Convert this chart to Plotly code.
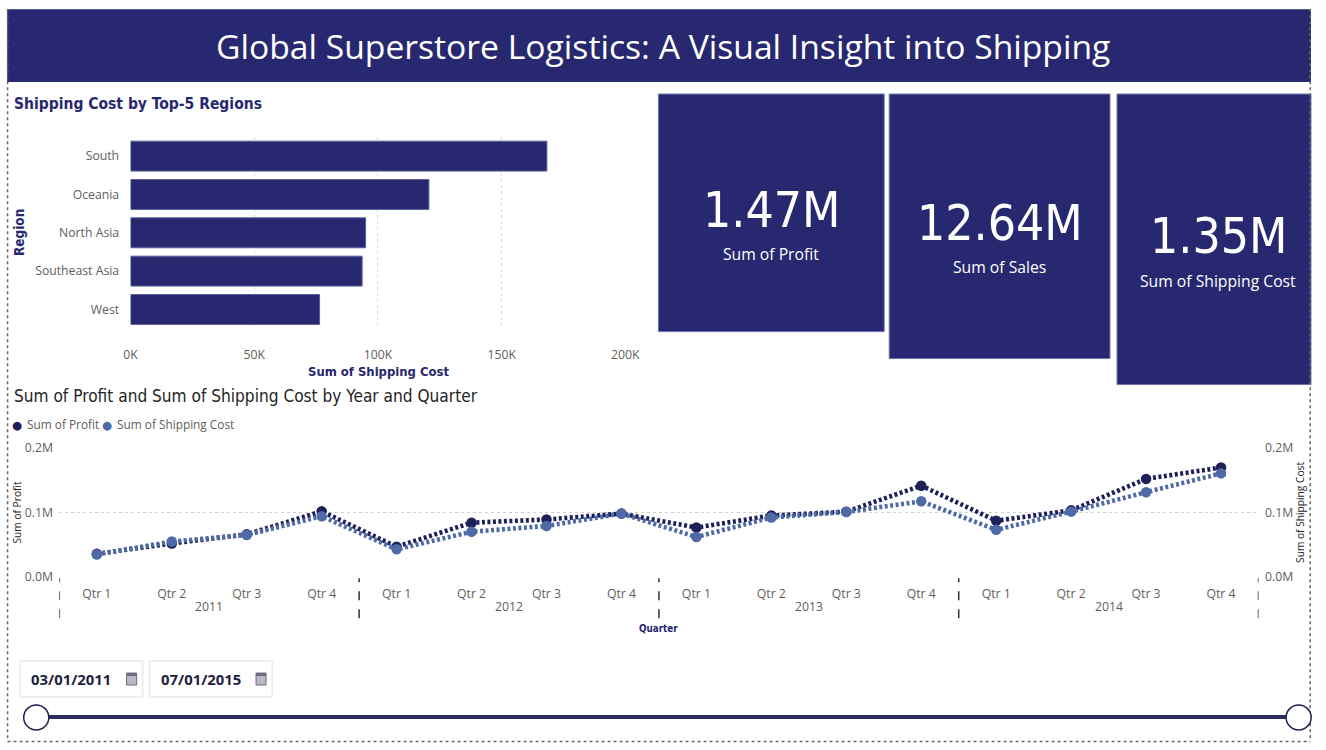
import plotly.graph_objects as go

# The page is photographed with the body's 8px margin and slightly scaled down,
# so positions are given in target-picture pixels and converted here.
W, H = 1326, 750
OFF = 8
KX, KY = 0.98, 0.979

# ---------------- data ----------------
regions = ["South", "Oceania", "North Asia", "Southeast Asia", "West"]
region_shipping = [168300, 120600, 95000, 93600, 76400]
bar_ticks = [0, 50000, 100000, 150000, 200000]
bar_tick_text = ["0K", "50K", "100K", "150K", "200K"]

years = ["2011", "2012", "2013", "2014"]
quarters = ["Qtr 1", "Qtr 2", "Qtr 3", "Qtr 4"]
profit = [36000, 52000, 66000, 101500, 47000, 84000, 89000, 98000,
          76500, 95000, 101000, 141000, 87000, 103000, 151500, 169000]
shipping = [35000, 55000, 65000, 94000, 43000, 70000, 79000, 98000,
            62000, 92000, 100500, 117000, 73000, 101000, 131000, 160000]
line_ticks = [0, 100000, 200000]
line_tick_text = ["0.0M", "0.1M", "0.2M"]

kpi_values = ["1.47M", "12.64M", "1.35M"]
kpi_labels = ["Sum of Profit", "Sum of Sales", "Sum of Shipping Cost"]

date_from, date_to = "03/01/2011", "07/01/2015"

# ---------------- styles ----------------
NAVY = "#27286F"
DARK = "#1E2059"
LIGHT = "#4E6BA8"
GRAY = "#605E5C"
DIN = "Liberation Sans Narrow, DejaVu Sans Condensed, Roboto, sans-serif"
SEG = "Open Sans, Noto Sans, sans-serif"


def X(px):
    return (px / KX - OFF) / W


def Y(py):
    return 1 - (py / KY - OFF) / H


def F(size):
    return size / KX


fig = go.Figure()

# bar chart
fig.add_trace(go.Bar(
    y=regions, x=region_shipping, orientation="h",
    marker=dict(color=NAVY, line=dict(color="#5b5e9a", width=1)),
    xaxis="x", yaxis="y", showlegend=False, hoverinfo="x+y",
))

# line chart
qx = list(range(len(profit)))
fig.add_trace(go.Scatter(
    x=qx, y=profit, mode="lines+markers", name="Sum of Profit",
    line=dict(color=DARK, width=4.6, dash="3px,2.5px"),
    marker=dict(color=DARK, size=10.5),
    xaxis="x2", yaxis="y2", showlegend=False,
))
fig.add_trace(go.Scatter(
    x=qx, y=shipping, mode="lines+markers", name="Sum of Shipping Cost",
    line=dict(color=LIGHT, width=4.6, dash="3px,2.5px"),
    marker=dict(color=LIGHT, size=10.5),
    xaxis="x2", yaxis="y3", showlegend=False,
))

shapes = []
ann = []


def text(t, px, py, size, color, family=SEG, xanchor="center", angle=0, xref="paper", xval=None):
    ann.append(dict(text=t, x=X(px) if xval is None else xval, y=Y(py), xref=xref, yref="paper",
                    showarrow=False, textangle=angle, font=dict(family=family, size=F(size), color=color),
                    xanchor=xanchor, yanchor="middle"))


def rect(x0, y0, x1, y1, fill, line_color=None, lw=0):
    shapes.append(dict(type="rect", xref="paper", yref="paper",
                       x0=max(X(x0), 0), x1=min(X(x1), 1), y0=Y(y1), y1=min(Y(y0), 1),
                       fillcolor=fill, line=dict(color=line_color or fill, width=lw)))


# title banner
rect(8, 8, 1316, 81, NAVY)
text("Global Superstore Logistics: A Visual Insight into Shipping", 662, 45, 33, "white")

# bar chart texts
text("<b>Shipping Cost by Top-5 Regions</b>", 13, 103, 15.2, NAVY, family=DIN, xanchor="left")
text("<b>Region</b>", 21, 232, 13.2, NAVY, family=DIN, angle=-90)
text("<b>Sum of Shipping Cost</b>", 378, 371, 12.7, NAVY, family=DIN)

# KPI cards
cards = [(657, 93, 882, 331), (887, 93, 1107, 358), (1114, 93, 1316, 384)]
val_y = [209, 222, 235]
lab_y = [253, 266, 280]
for (x0, y0, x1, y1), v, l, vy, ly in zip(cards, kpi_values, kpi_labels, val_y, lab_y):
    rect(x0, y0, x1, y1, NAVY, "#7074a8", 1)
    cx = (x0 + x1) / 2
    text(v, cx, vy, 48.5, "white", family=DIN)
    text(l, cx, ly, 15.4, "white")

# outer dotted frame (drawn after the cards so its right edge stays visible)
frame_l, frame_r, frame_b = max(X(7), 0.6 / W), min(X(1317.5), 1 - 0.8 / W), Y(741.5)
for (x0, y0, x1, y1) in [(frame_l, Y(8), frame_l, frame_b), (frame_r, Y(8), frame_r, frame_b),
                         (frame_l, frame_b, frame_r, frame_b)]:
    shapes.append(dict(type="line", xref="paper", yref="paper", x0=x0, x1=x1, y0=y0, y1=y1,
                       line=dict(color="#666", width=1.5, dash="dot")))

# line chart texts + legend
text("Sum of Profit and Sum of Shipping Cost by Year and Quarter", 13, 395, 16.8, "#252423",
     family=DIN, xanchor="left")
text("●", 18, 424, 20, DARK)
text("Sum of Profit", 26, 424, 11.6, GRAY, xanchor="left")
text("●", 107, 424, 20, LIGHT)
text("Sum of Shipping Cost", 115, 424, 11.6, GRAY, xanchor="left")
text("Sum of Profit", 18, 512, 10, "#252423", angle=-90)
text("Sum of Shipping Cost", 1297, 512, 10, "#252423", angle=-90)
nq = len(quarters)
for i, yr in enumerate(years):
    text(yr, 0, 606, 12, GRAY, xref="x2", xval=i * nq + (nq - 1) / 2)
for i in range(len(years) + 1):
    shapes.append(dict(type="line", xref="x2", yref="paper", x0=i * nq - 0.5, x1=i * nq - 0.5,
                       y0=Y(618), y1=Y(578), line=dict(color="#333", width=1.5, dash="dash")))
text("<b>Quarter</b>", 0, 628, 9.6, "#252470", family=DIN, xref="x2", xval=(len(profit) - 1) / 2)

# date slicer
for (x0, x1), d in zip([(21, 143), (150, 272)], [date_from, date_to]):
    rect(x0, 661, x1, 697, "white", "#ebebeb", 1.5)
    text(f"<b>{d}</b>", x0 + 9, 679, 14.6, "#1f1f3d", xanchor="left")
    ix = x1 - 16
    rect(ix, 673, ix + 10, 685, "#b8b8c4", "#6d6d80", 1)
    rect(ix, 673, ix + 10, 676, "#6d6d80")
shapes.append(dict(type="line", xref="paper", yref="paper", x0=X(37), x1=X(1295), y0=Y(717), y1=Y(717),
                   line=dict(color="#2a2c5e", width=4)))
for cxp in [37, 1295]:
    shapes.append(dict(type="circle", xref="paper", yref="paper", x0=X(cxp - 12.5), x1=X(cxp + 12.5),
                       y0=Y(730), y1=Y(705), fillcolor="white", line=dict(color="#1f2150", width=1.5)))

tickfont = dict(family=SEG, size=F(12), color=GRAY)
fig.update_layout(
    width=W, height=H, margin=dict(l=0, r=0, t=0, b=0),
    paper_bgcolor="white", plot_bgcolor="white",
    shapes=shapes, annotations=ann, showlegend=False,
    bargap=0.22,
    xaxis=dict(domain=[X(131), X(624)], range=[0, 200000], tickvals=bar_ticks, ticktext=bar_tick_text,
               showgrid=True, gridcolor="#d8d8d8", griddash="dot", zeroline=False, showline=False,
               ticks="outside", ticklen=15, tickcolor="rgba(0,0,0,0)",
               tickfont=tickfont, anchor="y", fixedrange=True),
    yaxis=dict(domain=[Y(328), Y(136)], categoryorder="array", categoryarray=regions, autorange="reversed",
               showgrid=False, zeroline=False, showline=False, ticks="outside", ticklen=8,
               tickcolor="rgba(0,0,0,0)", tickfont=tickfont, anchor="x", fixedrange=True),
    xaxis2=dict(domain=[X(60), X(1255)], range=[-0.5, len(profit) - 0.5],
                tickvals=qx, ticktext=[quarters[i % nq] for i in qx],
                showgrid=False, zeroline=False, showline=False, ticks="outside", ticklen=5,
                tickcolor="rgba(0,0,0,0)", tickfont=tickfont, anchor="y2", fixedrange=True),
    yaxis2=dict(domain=[Y(577), Y(447)], range=[0, 200000], tickvals=line_ticks, ticktext=line_tick_text,
                showgrid=True, gridcolor="#cfcfcf", griddash="dot", zeroline=False, showline=False,
                ticks="outside", ticklen=3, tickcolor="rgba(0,0,0,0)",
                tickfont=tickfont, anchor="x2", fixedrange=True),
    yaxis3=dict(domain=[Y(577), Y(447)], range=[0, 200000], tickvals=line_ticks, ticktext=line_tick_text,
                overlaying="y2", side="right", showgrid=False, zeroline=False, showline=False,
                ticks="outside", ticklen=3, tickcolor="rgba(0,0,0,0)",
                tickfont=tickfont, anchor="x2", fixedrange=True),
)

fig.write_html("out.html", config={"displayModeBar": False})
